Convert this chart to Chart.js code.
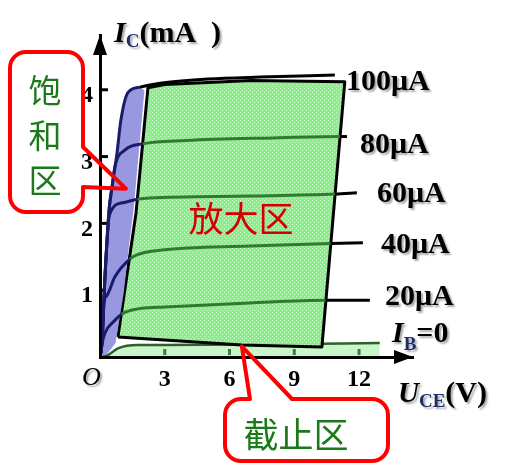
<!DOCTYPE html>
<html>
<head>
<meta charset="utf-8">
<script src="https://cdn.jsdelivr.net/npm/chart.js@4.4.1/dist/chart.umd.min.js"></script>
<style>
  html, body { margin: 0; padding: 0; background: #fff; }
  #wrap { width: 515px; height: 465px; }
</style>
</head>
<body>
<div id="wrap"><canvas id="bjt" width="515" height="465"></canvas></div>
<script>
// output characteristics, points are [UCE (V), IC (mA)]
const xTicks = [3, 6, 9, 12];
const yTicks = [1, 2, 3, 4];

const ib100 = [[0,0],[0.09,0.21],[0.23,1.2],[0.42,2.2],[0.56,2.55],[0.79,3.06],[0.97,3.55],[1.3,3.96],[1.85,4.04],[2.87,4.1],[5,4.16],[7.41,4.19],[10.88,4.22]];
const ib80 = [[0,0],[0.09,0.21],[0.23,1.2],[0.42,2.2],[0.56,2.55],[0.69,2.85],[1.16,3.1],[1.98,3.19],[4,3.24],[8,3.28],[11.12,3.3],[11.44,3.3]];
const ib60 = [[0,0],[0.09,0.21],[0.23,1.2],[0.44,2.13],[1.06,2.31],[1.73,2.36],[2.31,2.38],[6.94,2.41],[10.9,2.44],[11.9,2.46]];
const ib40 = [[0,0],[0.09,0.21],[0.17,0.8],[0.32,0.92],[0.69,1.2],[1.39,1.47],[1.71,1.53],[2.87,1.6],[6.94,1.66],[10.69,1.7],[12.18,1.71]];
const ib20 = [[0,0],[0.06,0.14],[0.23,0.36],[0.6,0.52],[1.0,0.64],[1.16,0.67],[1.94,0.73],[3,0.75],[6.94,0.81],[10.46,0.85],[12.5,0.85]];
const ib0 = [[0,0],[0.37,0.03],[0.83,0.13],[1.76,0.18],[3,0.18],[8,0.19],[12.96,0.21]];

// where each curve enters the active region and where it leaves it
const satEdge = [1.85, 1.98, 1.73, 1.39, 1.0];
const boxEdge = [1.85, 11.12, 10.9, 10.69, 10.46];
const curveLabels = ["100μA", "80μA", "60μA", "40μA", "20μA"];

// region outlines
const satRegion = [[0,0],[0.09,0.21],[0.23,1.2],[0.42,2.2],[0.56,2.55],[0.79,3.06],[0.97,3.55],[1.3,3.96],[1.85,4.04],[2.06,3.99],[1.55,2.19],[1.36,1.71],[1.1,0.96],[0.72,0.21],[0.37,0.06],[0,0]];
const activeRegion = [[0.83,0.3],[1.67,2.16],[2.22,4.03],[3,4.08],[7,4.14],[11.34,4.12],[10.28,0.15],[6.57,0.18],[0.83,0.3]];

const SERIF = '"Liberation Serif", "Times New Roman", serif';
const CJK = '"Noto Sans CJK SC", sans-serif';
const navy = "#1b1b6b";
const dkGreen = "#2f7a2f";

const toXY = arr => arr.map(p => ({ x: p[0], y: p[1] }));

// dotted green like the original fill
function greenPattern() {
    const c = document.createElement("canvas");
    c.width = 4; c.height = 4;
    const g = c.getContext("2d");
    g.fillStyle = "#84f284";
    g.fillRect(0, 0, 4, 4);
    g.fillStyle = "rgba(255,255,255,0.6)";
    g.fillRect(0, 0, 1, 1);
    g.fillRect(2, 2, 1, 1);
    return g.createPattern(c, "repeat");
}

function curve(points, i) {
    return {
        data: toXY(points),
        showLine: true,
        pointRadius: 0,
        borderWidth: 3,
        borderColor: "#000",
        cubicInterpolationMode: "monotone",
        fill: false,
        order: 0,
        segment: {
            borderColor: c => c.p0.parsed.x < satEdge[i] ? navy : (c.p0.parsed.x < boxEdge[i] ? dkGreen : "#000")
        }
    };
}

const datasets = [
    curve(ib100, 0), curve(ib80, 1), curve(ib60, 2), curve(ib40, 3), curve(ib20, 4),
    {
        data: toXY(ib0), showLine: true, pointRadius: 0, borderWidth: 2.5,
        borderColor: "#2f5f2f", backgroundColor: "#c8f6c8", fill: "origin",
        cubicInterpolationMode: "monotone", order: 3
    },
    {
        data: toXY(satRegion), showLine: true, pointRadius: 0, borderWidth: 0,
        borderColor: "transparent", backgroundColor: "#9898e0", fill: "shape",
        tension: 0, order: 1
    },
    {
        data: toXY(activeRegion), showLine: true, pointRadius: 0, borderWidth: 3,
        borderColor: "#000", backgroundColor: greenPattern(), fill: "shape",
        tension: 0, order: 2, borderJoinStyle: "round"
    }
];

function runs(ctx, x, y, parts) {
    for (const p of parts) {
        ctx.font = p.font;
        ctx.fillStyle = p.color || "#000";
        ctx.fillText(p.t, x, y + (p.dy || 0));
        x += ctx.measureText(p.t).width;
    }
}

function shadowOn(ctx) {
    ctx.shadowColor = "rgba(0,0,0,0.35)";
    ctx.shadowOffsetX = 2;
    ctx.shadowOffsetY = 2;
    ctx.shadowBlur = 2;
}

const decor = {
    id: "decor",
    beforeDatasetsDraw(chart) {
        const ctx = chart.ctx;
        const y = chart.scales.y;
        const left = chart.chartArea.left;
        ctx.save();
        ctx.strokeStyle = "#000";
        ctx.lineWidth = 3;
        yTicks.forEach(v => {
            const py = y.getPixelForValue(v);
            ctx.beginPath();
            ctx.moveTo(left, py);
            ctx.lineTo(left + 8, py);
            ctx.stroke();
        });
        ctx.restore();
    },
    afterDatasetsDraw(chart) {
        const ctx = chart.ctx;
        const x = chart.scales.x;
        const bottom = chart.chartArea.bottom;
        ctx.save();
        ctx.strokeStyle = "#3d7a3d";
        ctx.lineWidth = 3;
        xTicks.forEach(v => {
            const px = x.getPixelForValue(v);
            ctx.beginPath();
            ctx.moveTo(px, bottom - 8);
            ctx.lineTo(px, bottom - 2);
            ctx.stroke();
        });
        ctx.restore();
    },
    afterDraw(chart) {
        const ctx = chart.ctx;
        const { left, top, right, bottom } = chart.chartArea;
        const sx = chart.scales.x, sy = chart.scales.y;
        ctx.save();

        // arrow heads
        ctx.fillStyle = "#000";
        ctx.beginPath();
        ctx.moveTo(left, top);
        ctx.lineTo(left - 7, top + 20);
        ctx.lineTo(left + 7, top + 20);
        ctx.closePath();
        ctx.fill();
        ctx.beginPath();
        ctx.moveTo(right, bottom);
        ctx.lineTo(right - 19, bottom - 7);
        ctx.lineTo(right - 19, bottom + 7);
        ctx.closePath();
        ctx.fill();

        // axis titles and curve labels
        ctx.textBaseline = "alphabetic";
        ctx.textAlign = "left";
        shadowOn(ctx);
        runs(ctx, 114, 42, [
            { t: "I", font: "italic bold 30px " + SERIF },
            { t: "C", font: "bold 19px " + SERIF, color: "#1c2f6b", dy: 5 },
            { t: "(mA  )", font: "bold 30px " + SERIF }
        ]);
        runs(ctx, 398, 402, [
            { t: "U", font: "italic bold 29px " + SERIF },
            { t: "CE", font: "bold 19px " + SERIF, color: "#1c2f6b", dy: 5 },
            { t: "(V)", font: "bold 30px " + SERIF }
        ]);
        const labelPos = [[346, 90], [360, 153], [377, 202], [381, 253], [385, 305]];
        ctx.font = "bold 30px " + SERIF;
        ctx.fillStyle = "#000";
        curveLabels.forEach((t, i) => ctx.fillText(t, labelPos[i][0], labelPos[i][1]));
        runs(ctx, 392, 342, [
            { t: "I", font: "italic bold 30px " + SERIF },
            { t: "B", font: "bold 19px " + SERIF, color: "#1c2f6b", dy: 8 },
            { t: "=0", font: "bold 30px " + SERIF }
        ]);
        ctx.font = "italic 26px " + SERIF;
        ctx.fillStyle = "#000";
        ctx.fillText("O", 82, 385);

        ctx.shadowColor = "transparent";

        // region names
        ctx.textAlign = "center";
        ctx.textBaseline = "middle";
        ctx.font = "35px " + CJK;
        ctx.fillStyle = "#d40000";
        ctx.fillText("放大区", 241, 219);
        ctx.fillStyle = "#1a7a1a";
        ctx.font = "33px " + CJK;
        ctx.fillText("饱", 45, 90);
        ctx.fillText("和", 45, 135);
        ctx.fillText("区", 45, 180);
        ctx.font = "35px " + CJK;
        ctx.fillText("截止区", 296, 435);

        // callout boxes
        ctx.strokeStyle = "#ff0000";
        ctx.lineWidth = 4;
        ctx.lineJoin = "round";
        const r = 16;
        let tx = sx.getPixelForValue(1.2), ty = sy.getPixelForValue(2.52);
        let x0 = 10, y0 = 52, x1 = 83, y1 = 212;
        ctx.beginPath();
        ctx.moveTo(x0 + r, y0);
        ctx.lineTo(x1 - r, y0);
        ctx.arcTo(x1, y0, x1, y0 + r, r);
        ctx.lineTo(x1, 147);
        ctx.lineTo(tx, ty);
        ctx.lineTo(x1, 187);
        ctx.lineTo(x1, y1 - r);
        ctx.arcTo(x1, y1, x1 - r, y1, r);
        ctx.lineTo(x0 + r, y1);
        ctx.arcTo(x0, y1, x0, y1 - r, r);
        ctx.lineTo(x0, y0 + r);
        ctx.arcTo(x0, y0, x0 + r, y0, r);
        ctx.closePath();
        ctx.stroke();

        tx = sx.getPixelForValue(6.57); ty = sy.getPixelForValue(0.16);
        x0 = 225; y0 = 399; x1 = 388; y1 = 461;
        ctx.beginPath();
        ctx.moveTo(x0 + r, y0);
        ctx.lineTo(250, y0);
        ctx.lineTo(tx, ty);
        ctx.lineTo(292, y0);
        ctx.lineTo(x1 - r, y0);
        ctx.arcTo(x1, y0, x1, y0 + r, r);
        ctx.lineTo(x1, y1 - r);
        ctx.arcTo(x1, y1, x1 - r, y1, r);
        ctx.lineTo(x0 + r, y1);
        ctx.arcTo(x0, y1, x0, y1 - r, r);
        ctx.lineTo(x0, y0 + r);
        ctx.arcTo(x0, y0, x0 + r, y0, r);
        ctx.closePath();
        ctx.stroke();

        ctx.restore();
    }
};

new Chart(document.getElementById("bjt"), {
    type: "scatter",
    data: { datasets },
    options: {
        responsive: false,
        animation: false,
        layout: { padding: { left: 0, top: 35, right: 102, bottom: 0 } },
        plugins: { legend: { display: false }, tooltip: { enabled: false } },
        scales: {
            x: {
                type: "linear", min: 0, max: 14.5,
                afterFit: s => { s.height = 108; },
                afterBuildTicks: s => { s.ticks = xTicks.map(v => ({ value: v })); },
                grid: { display: false, drawTicks: false },
                border: { display: true, color: "#000", width: 3, z: 1 },
                ticks: { padding: 8, color: "#000", font: { family: SERIF, size: 24, weight: "bold" } }
            },
            y: {
                type: "linear", min: 0, max: 4.82,
                afterFit: s => { s.width = 100; },
                afterBuildTicks: s => { s.ticks = yTicks.map(v => ({ value: v })); },
                grid: { display: false, drawTicks: false },
                border: { display: true, color: "#000", width: 3, z: 1 },
                ticks: { padding: 7, labelOffset: 6, color: "#000", font: { family: SERIF, size: 24, weight: "bold" } }
            }
        }
    },
    plugins: [decor]
});
</script>
</body>
</html>
